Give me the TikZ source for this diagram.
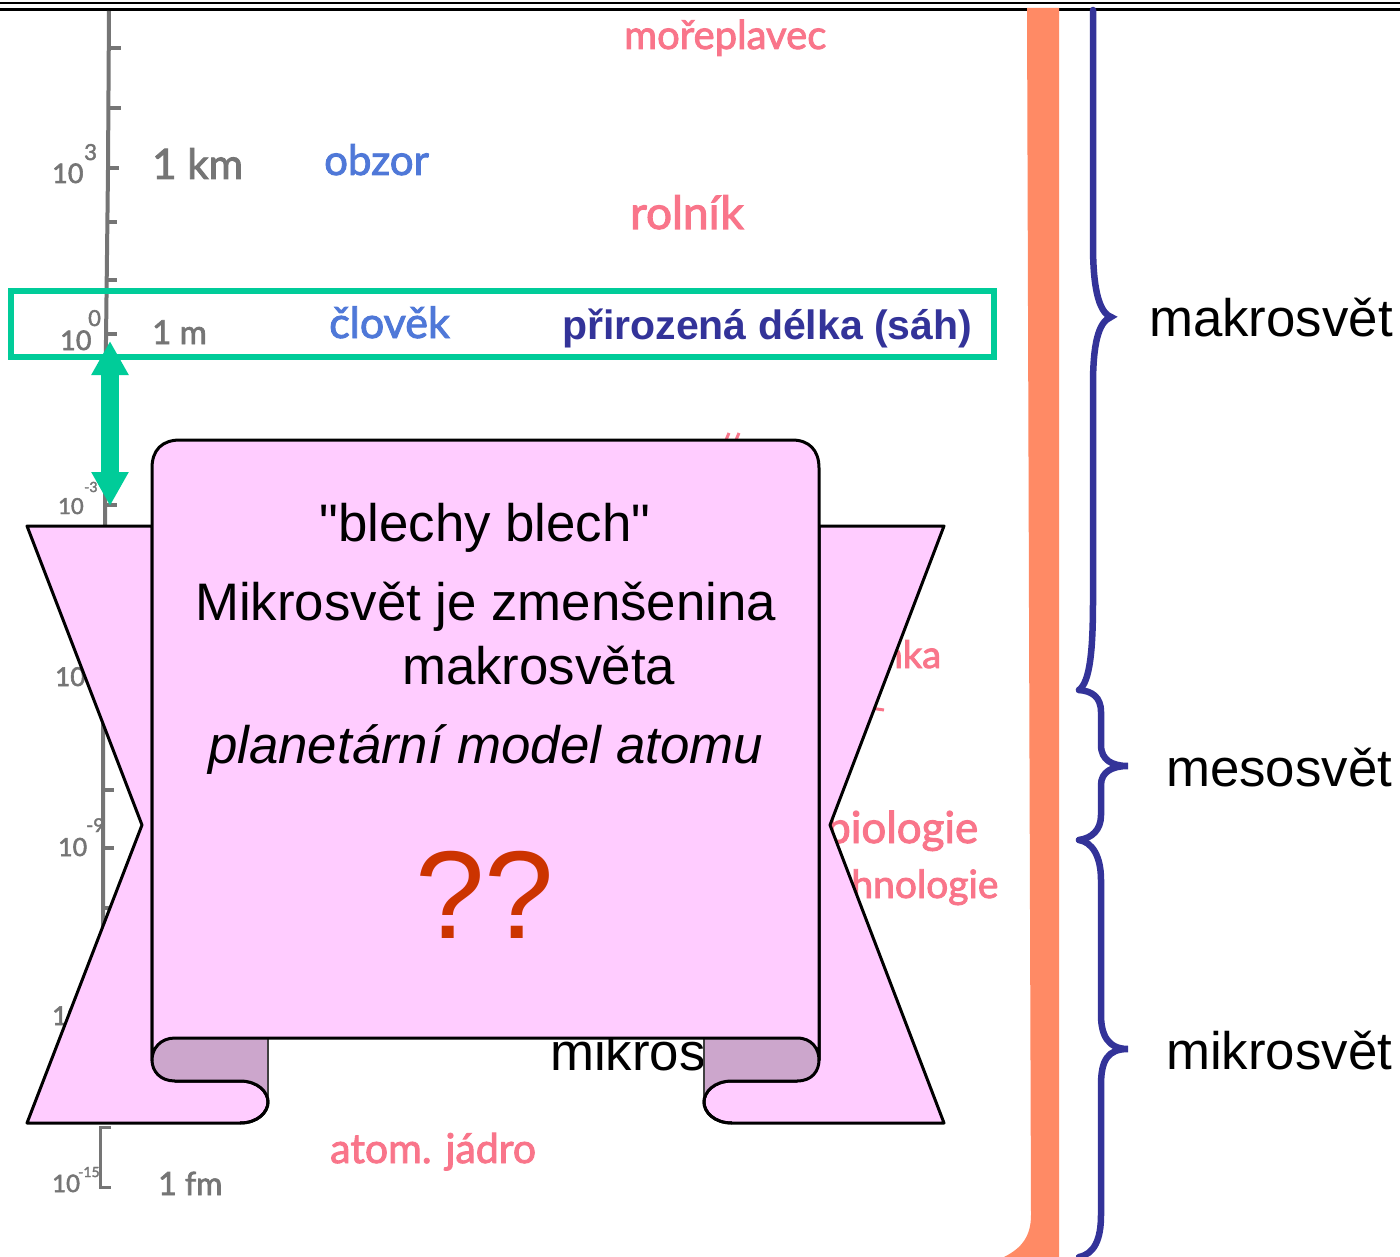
\documentclass[tikz,border=0pt]{standalone}
\usepackage{fontspec}
\setmainfont{Liberation Sans}
\newfontfamily\plainq{Liberation Sans}
\newfontfamily\handfont[FakeBold=2.2]{Lato}
\usetikzlibrary{arrows.meta}
\definecolor{greenmark}{HTML}{00CC99}
\definecolor{bracecol}{HTML}{333399}
\definecolor{barcol}{HTML}{FF8A65}
\definecolor{axiscol}{HTML}{757575}
\definecolor{redhand}{HTML}{F9758A}
\definecolor{bluehand}{HTML}{4F78D8}
\definecolor{scrollfill}{HTML}{FFCCFF}
\definecolor{foldfill}{HTML}{CCA6CC}
\definecolor{qcol}{HTML}{CC3300}
\tikzset{
  x=1pt,y=-1pt,
  bigtext/.style={font=\fontsize{52.8}{53}\selectfont,inner sep=0pt,text=black},
  lefttext/.style={bigtext,anchor=base west},
  midtext/.style={bigtext,anchor=base},
  hand/.style={inner sep=0pt,anchor=base west,font=\handfont\fontsize{#1}{#1}\selectfont},
  redh/.style={hand=#1,text=redhand},
  blueh/.style={hand=#1,text=bluehand},
  grayh/.style={hand=#1,text=axiscol},
  axisline/.style={draw=axiscol,line width=4pt},
  tick/.style={draw=axiscol,line width=4pt},
  bracepath/.style={draw=bracecol,line width=6.5pt,line cap=round},
  scrollline/.style={draw=black,line width=3pt,line join=round},
}
\begin{document}
\begin{tikzpicture}
\useasboundingbox (0,0) rectangle (1400,1257);
\fill[white] (0,0) rectangle (1400,1257);
% top rules
\draw[black,line width=2pt] (0,3.5) -- (1400,3.5);
\draw[black,line width=3pt] (0,10) -- (1400,10);
% scale axis
\draw[axisline] (109,11) -- (108,170) -- (106,340) -- (105,530) -- (103,700) -- (103,940);
\foreach \xa/\ya in {110/48,110/108,108/168,106/222,106/280,106/334,106/450,106/505,103/790,103/848,103/908}
  \draw[tick] (\xa,\ya) -- (\xa+11,\ya);
\draw[draw=axiscol,line width=3pt] (111,1127) -- (100,1127) -- (100,1187) -- (111,1187);
\node[grayh=27] (e3) at (52,183) {10};
\node[grayh=22] (e3s) at (84,160) {3};
\node[grayh=27] (e0) at (60,350) {10};
\node[grayh=22] (e0s) at (88,326) {0};
\node[grayh=22] (em3) at (58,514) {10};
\node[grayh=14] (em3s) at (84,492) {-3};
\node[grayh=26] (em6) at (55,686) {10};
\node[grayh=25] (em9) at (58,856) {10};
\node[grayh=19] (em9s) at (86,832) {-9};
\node[grayh=26] (em12) at (52,1025) {10};
\node[grayh=24] (em15) at (52,1192) {10};
\node[grayh=14] (em15s) at (78,1177) {-15};
\node[grayh=42] (km) at (152,179) {1 km};
\node[grayh=33] (m) at (152,344) {1 m};
\node[grayh=32] (fm) at (158,1195) {1 fm};
% handwritten labels
\node[blueh=42] (obzor) at (324,175) {obzor};
\node[blueh=43] (clovek) at (329,338) {člověk};
\node[redh=40] (morep) at (624,49) {mořeplavec};
\node[redh=46] (rolnik) at (630,229) {rolník};
\node[redh=38] (bunka) at (839,668) {buňka};
\node[redh=44] (biol) at (826,843) {biologie};
\node[redh=39] (tech) at (798,898) {technologie};
\node[redh=41] (jadro) at (330,1163) {atom. jádro};
\draw[redhand,line width=3pt] (726,440) -- (729,433) (736,440) -- (739,433);
\draw[redhand,line width=3pt] (870,708) -- (884,710);
% hidden word behind the scroll
\node[lefttext] (mikroshid) at (550,1070) {mikrosvět};
% orange bar
\fill[barcol] (1027,8) -- (1059,8) -- (1059,1257) -- (1004,1257)
  .. controls (1022,1248) and (1031,1236) .. (1031,1215) -- cycle;
% braces
\draw[bracepath] (1093,10) -- (1093,245) .. controls (1093,285) and (1098,312) .. (1111,317)
  .. controls (1098,322) and (1093,345) .. (1093,385) -- (1093,600)
  .. controls (1093,650) and (1090,682) .. (1079,690);
\draw[bracepath] (1079,690) .. controls (1092,691) and (1101,697) .. (1101,712) -- (1101,745)
  .. controls (1101,760) and (1112,766) .. (1128,766)
  .. controls (1112,766) and (1101,772) .. (1101,785) -- (1101,815)
  .. controls (1101,830) and (1092,838) .. (1079,840);
\draw[bracepath] (1079,840) .. controls (1092,842) and (1101,856) .. (1101,880) -- (1101,1015)
  .. controls (1101,1035) and (1108,1049) .. (1128,1049)
  .. controls (1108,1049) and (1101,1060) .. (1101,1085) -- (1101,1215)
  .. controls (1101,1240) and (1094,1254) .. (1079,1257);
\node[lefttext] (makro) at (1149,336) {makrosvět};
\node[lefttext] (meso) at (1166,786) {mesosvět};
\node[lefttext] (mikro) at (1166,1069) {mikrosvět};
% green frame and text
\node[draw=greenmark,line width=6pt,minimum width=983pt,minimum height=66pt,inner sep=0pt,anchor=north west] (frame) at (8,288) {};
\node[inner sep=0pt,anchor=base west,text=bracecol,font=\bfseries\fontsize{41}{41}\selectfont] (sah) at (562,339) {přirozená délka (sáh)};
% scroll
\filldraw[fill=scrollfill,scrollline] (152,526) -- (27,526) -- (142,825) -- (27,1123) -- (240,1123)
  .. controls (258,1123) and (268,1112) .. (268,1102)
  .. controls (268,1092) and (258,1081) .. (240,1081) -- (175,1081) -- (152,1060) -- cycle;
\filldraw[fill=scrollfill,scrollline] (819,526) -- (944,526) -- (830,825) -- (944,1123) -- (732,1123)
  .. controls (714,1123) and (704,1112) .. (704,1102)
  .. controls (704,1092) and (714,1081) .. (732,1081) -- (797,1081) -- (819,1060) -- cycle;
\fill[foldfill] (175,1038) .. controls (160,1038) and (152,1049) .. (152,1060)
  .. controls (152,1071) and (160,1081) .. (175,1081) -- (240,1081)
  .. controls (258,1081) and (268,1092) .. (268,1102) -- (268,1038) -- cycle;
\fill[foldfill] (797,1038) .. controls (812,1038) and (819,1049) .. (819,1060)
  .. controls (819,1071) and (812,1081) .. (797,1081) -- (732,1081)
  .. controls (714,1081) and (704,1092) .. (704,1102) -- (704,1038) -- cycle;
\draw[draw=black!75,line width=2pt] (268,1038) -- (268,1102) (704,1038) -- (704,1102);
\filldraw[fill=scrollfill,scrollline] (152,1060) -- (152,468)
  .. controls (152,450) and (162,440) .. (180,440) -- (792,440)
  .. controls (809,440) and (819,450) .. (819,468) -- (819,1060)
  .. controls (819,1049) and (812,1038) .. (797,1038) -- (175,1038)
  .. controls (160,1038) and (152,1049) .. (152,1060) -- cycle;
\draw[scrollline] (152,1060) .. controls (152,1071) and (160,1081) .. (175,1081) -- (240,1081)
  .. controls (258,1081) and (268,1092) .. (268,1102)
  .. controls (268,1112) and (258,1123) .. (240,1123);
\draw[scrollline] (819,1060) .. controls (819,1071) and (812,1081) .. (797,1081) -- (732,1081)
  .. controls (714,1081) and (704,1092) .. (704,1102)
  .. controls (704,1112) and (714,1123) .. (732,1123);
% green arrow
\coordinate (arrtop) at (110,341);
\coordinate (arrbot) at (110,506);
\draw[draw=greenmark,line width=17.5pt,{Triangle[length=34pt,width=35pt]}-{Triangle[length=34pt,width=35pt]}] (arrtop) -- (arrbot);
% scroll text
\node[midtext,font=\plainq\fontsize{52.8}{53}\selectfont] (bl) at (485,541) {"blechy blech"};
\node[lefttext] (ms1) at (195,620) {Mikrosvět je zmenšenina};
\node[lefttext] (ms2) at (402,684) {makrosvěta};
\node[lefttext,font=\itshape\fontsize{52.8}{53}\selectfont] (pm) at (208,763) {planetární model atomu};
\node[midtext,text=qcol,font=\fontsize{125}{125}\selectfont] (qq) at (485,938) {??};
\end{tikzpicture}
\end{document}
